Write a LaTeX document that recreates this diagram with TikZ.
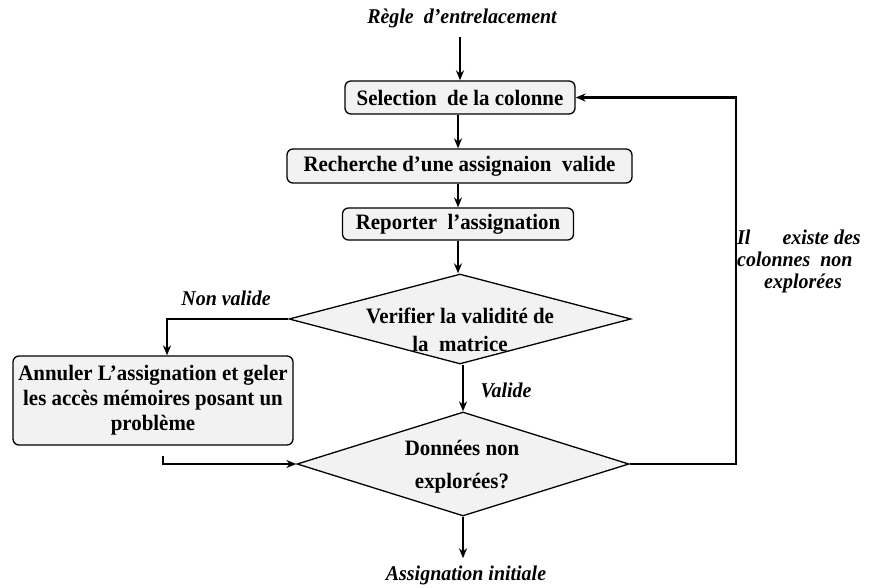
\documentclass[tikz,border=0pt]{standalone}
\usepackage{fontspec}
\setmainfont{Liberation Serif}[FakeStretch=0.95]
\usetikzlibrary{shapes.geometric,arrows.meta}
\definecolor{boxgray}{RGB}{242,242,242}
\begin{document}
\begin{tikzpicture}[x=1pt,y=-1pt,
  box/.style={draw, fill=boxgray, rounded corners=6pt, line width=1.3pt, inner sep=0pt,
              font=\fontsize{22}{25}\selectfont\bfseries, align=center},
  dia/.style={draw, fill=boxgray, diamond, line width=1.3pt, inner sep=0pt},
  txt/.style={font=\fontsize{22}{25}\selectfont\bfseries, align=center, inner sep=0pt},
  lab/.style={font=\fontsize{21}{22}\selectfont\bfseries\itshape, inner sep=0pt},
  arr/.style={line width=2.2pt, -{Stealth[length=10pt,width=8pt]}}]
\useasboundingbox (0,0) rectangle (870,588);

% top and bottom labels
\node[lab] (rt) at (462,18) {Règle\ \ d’entrelacement};
\node[lab] (bl) at (466,575) {Assignation initiale};

% boxes
\node[box, minimum width=230pt, minimum height=33pt] (b1) at (460,97.5) {Selection\ \ de la colonne};
\node[box, minimum width=345pt, minimum height=34pt] (b2) at (459.5,166) {Recherche d’une assignaion\ \ valide};
\node[box, minimum width=231pt, minimum height=32pt] (b3) at (458,224) {Reporter\ \ l’assignation};
\node[box, minimum width=280pt, minimum height=89pt] (lb) at (153,400.5)
  {\fontsize{22}{25}\selectfont Annuler L’assignation et geler\\les accès mémoires\ posant un\\problème};

% diamonds
\node[dia, minimum width=342pt, minimum height=90pt] (d1) at (460,319) {};
\node[txt, font=\fontsize{22}{28}\selectfont\bfseries] (d1t) at (460,330) {Verifier la validité\ de\\la\ \ matrice};
\node[dia, minimum width=332pt, minimum height=104pt] (d2) at (463,464) {};
\node[txt, font=\fontsize{22}{33}\selectfont\bfseries] (d2t) at (462,467) {Données non\\explorées?};

% connector labels
\node[lab] (nv) at (226,298) {Non valide};
\node[lab] (va) at (506,390) {Valide};
\node[lab, anchor=north west, align=left, font=\fontsize{21}{22}\selectfont\bfseries\itshape] (ex) at (737,230)
  {Il\hspace{32pt}existe des\\colonnes\ \ non\\\hspace{27pt}explorées};

% coordinates
\coordinate (c1) at (163,456);
\coordinate (c2) at (736,97.5);

% connectors
\draw[arr] ([yshift=-19pt]rt.center -| b1.north) -- (b1.north);
\draw[arr] (b1.south -| b3.north) -- (b2.north -| b3.north);
\draw[arr] (b2.south -| b3.north) -- (b3.north);
\draw[arr] (b3.south) -- (b3.south |- d1.north);
\draw[arr] (d2.north |- d1.south) -- (d2.north);
\draw[arr] (d1.west) -| ([xshift=14pt]lb.north);
\draw[arr] (c1) |- (d2.west);
\draw[arr] (d2.south) -- ([yshift=7pt]d2.south |- bl.north);
\draw[arr] (d2.east) -| (c2) -- (b1.east);
\end{tikzpicture}
\end{document}
